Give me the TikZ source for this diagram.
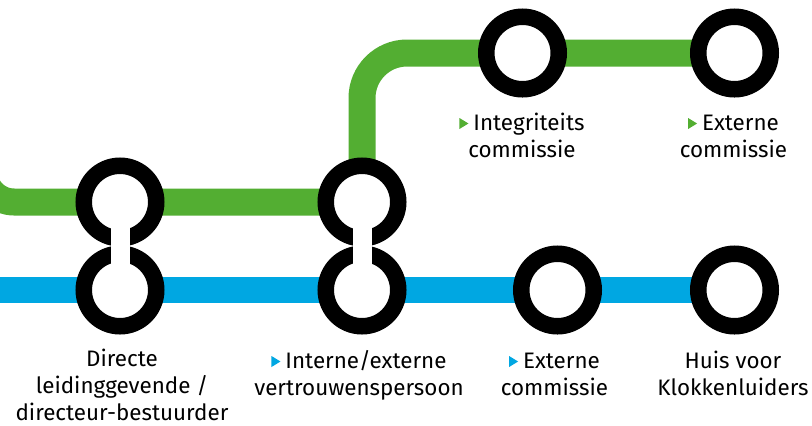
\documentclass[tikz,border=0pt]{standalone}
\usepackage{fontspec}
\setmainfont{Fira Sans}
\definecolor{lgreen}{RGB}{83,174,50}
\definecolor{lblue}{RGB}{0,167,226}
\newcommand\gtri{\tikz[baseline=0pt]\fill[lgreen] (0pt,1pt)--(0pt,12pt)--(9pt,6.5pt)--cycle;\hspace{5pt}}
\newcommand\btri{\tikz[baseline=0pt]\fill[lblue] (0pt,1pt)--(0pt,12pt)--(9pt,6.5pt)--cycle;\hspace{5pt}}
\begin{document}
\begin{tikzpicture}[x=1pt,y=-1pt,
  stop/.style={circle,draw=black,fill=white,line width=16.5pt,minimum size=72.5pt,inner sep=0pt},
  greenline/.style={draw=lgreen,line width=27pt},
  blueline/.style={draw=lblue,line width=26.5pt},
  neck/.style={fill=white,draw=none},
  lbl/.style={align=center,anchor=base,inner sep=0pt,font=\fontsize{22.4}{27}\selectfont}]
\useasboundingbox (0,0) rectangle (812,426);
% coordinates of stops
\coordinate (gs) at (-16,120);
\coordinate (bs) at (-20,290);
\path (120,202) coordinate (pg1) (362,202) coordinate (pg2) (522.5,53) coordinate (pu1) (734.5,53) coordinate (pu2)
      (120,290) coordinate (pb1) (362,290) coordinate (pb2) (557.5,290) coordinate (pb3) (734.5,290) coordinate (pb4);
% lines
\draw[greenline,rounded corners=30pt] (gs) |- (pg2);
\draw[greenline,rounded corners=45pt] (pg2) |- (pu1) -- (pu2);
\draw[blueline] (bs) -- (pb4);
% stops
\node[stop] (g1) at (pg1) {};
\node[stop] (g2) at (pg2) {};
\node[stop] (u1) at (pu1) {};
\node[stop] (u2) at (pu2) {};
\node[stop] (b1) at (pb1) {};
\node[stop] (b2) at (pb2) {};
\node[stop] (b3) at (pb3) {};
\node[stop] (b4) at (pb4) {};
% necks
\fill[neck] ([xshift=-9.5pt]g1.center) rectangle ([xshift=9.5pt]b1.center);
\fill[neck] ([xshift=-9.5pt]g2.center) rectangle ([xshift=9.5pt]b2.center);
% labels (anchor base = baseline of last line)
\node[lbl] (t1) at (122,420) {Directe\\leidinggevende /\\directeur-bestuurder};
\node[lbl] (t2) at (359,395) {\btri Interne/externe\\vertrouwenspersoon};
\node[lbl] (t3) at (554.5,395) {\btri Externe\\commissie};
\node[lbl] (t4) at (733,395) {Huis voor\\Klokkenluiders};
\node[lbl] (t5) at (522,157) {\gtri Integriteits\\commissie};
\node[lbl] (t6) at (733.5,157) {\gtri Externe\\commissie};
\end{tikzpicture}
\end{document}
